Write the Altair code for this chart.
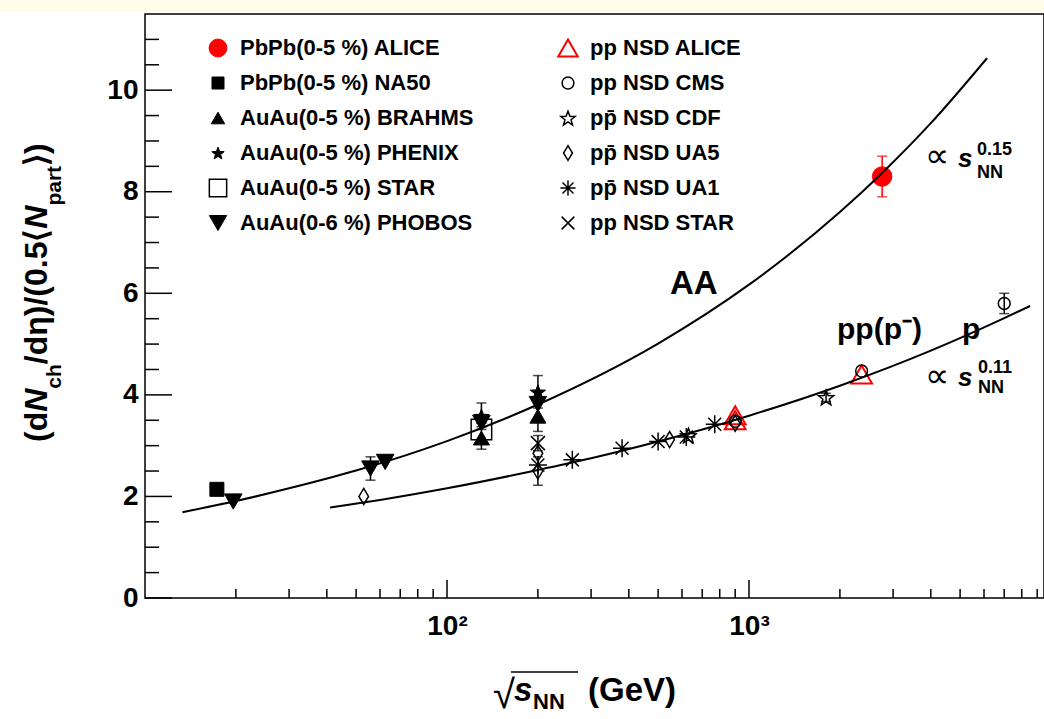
import math
import altair as alt
import pandas as pd

# ---------------- values ----------------
# sqrt(s_NN) [GeV], (dNch/deta)/(0.5<Npart>), error
pbpb_alice_x = [2760]
pbpb_alice_y = [8.3]
pbpb_alice_e = [0.4]

pbpb_na50_x = [17.3]
pbpb_na50_y = [2.14]
pbpb_na50_e = [0.08]

auau_brahms_x = [130, 200]
auau_brahms_y = [3.15, 3.58]
auau_brahms_e = [0.22, 0.30]

auau_phenix_x = [130, 200]
auau_phenix_y = [3.58, 4.06]
auau_phenix_e = [0.26, 0.32]

auau_star_x = [130]
auau_star_y = [3.32]
auau_star_e = [0.0]

auau_phobos_x = [19.6, 55.8, 62.4, 130, 200]
auau_phobos_y = [1.90, 2.55, 2.68, 3.45, 3.82]
auau_phobos_e = [0.0, 0.23, 0.0, 0.0, 0.0]

pp_alice_x = [900, 900, 2360]
pp_alice_y = [3.60, 3.50, 4.40]
pp_alice_e = [0.0, 0.0, 0.0]

pp_cms_x = [900, 2360, 7000]
pp_cms_y = [3.48, 4.47, 5.80]
pp_cms_e = [0.0, 0.0, 0.2]

ppbar_cdf_x = [630, 1800]
ppbar_cdf_y = [3.20, 3.95]
ppbar_cdf_e = [0.0, 0.08]

ppbar_ua5_x = [53, 200, 200, 546, 900]
ppbar_ua5_y = [2.00, 2.85, 2.50, 3.12, 3.44]
ppbar_ua5_e = [0.0, 0.0, 0.28, 0.0, 0.0]

ppbar_ua1_x = [200, 260, 380, 500, 620, 770]
ppbar_ua1_y = [2.62, 2.72, 2.95, 3.08, 3.17, 3.42]
ppbar_ua1_e = [0.0, 0.0, 0.0, 0.0, 0.0, 0.0]

pp_star_x = [200]
pp_star_y = [3.05]
pp_star_e = [0.15]

# fitted power-law curves
aa_fit_x = [13.3, 20, 30, 50, 100, 200, 500, 1000, 2000, 2760, 4000, 6140]
aa_fit_y = [1.69, 1.91, 2.16, 2.51, 3.09, 3.81, 5.01, 6.17, 7.60, 8.37, 9.35, 10.63]
pp_fit_x = [41, 60, 100, 200, 300, 500, 1000, 2000, 4000, 7000, 8520]
pp_fit_y = [1.78, 1.93, 2.16, 2.52, 2.75, 3.08, 3.59, 4.18, 4.87, 5.51, 5.75]

legend_labels = [
    "PbPb(0-5 %) ALICE", "PbPb(0-5 %) NA50", "AuAu(0-5 %) BRAHMS",
    "AuAu(0-5 %) PHENIX", "AuAu(0-5 %) STAR", "AuAu(0-6 %) PHOBOS",
    "pp NSD  ALICE", "pp NSD CMS", "pp\u0304 NSD CDF",
    "pp\u0304 NSD UA5", "pp\u0304 NSD UA1", "pp NSD STAR",
]

y_major = [0, 2, 4, 6, 8, 10]
y_minor = [0.5, 1, 1.5, 2.5, 3, 3.5, 4.5, 5, 5.5, 6.5, 7, 7.5, 8.5, 9, 9.5, 10.5, 11]
x_major = [100, 1000]
x_major_labels = ["10\u00b2", "10\u00b3"]
x_minor = [20, 30, 40, 50, 60, 70, 80, 90,
           200, 300, 400, 500, 600, 700, 800, 900,
           2000, 3000, 4000, 5000, 6000, 7000, 8000, 9000]

# ---------------- layout / style ----------------
FONT = "Liberation Sans"
RED = "#ff0000"
W, H = 899, 584
PL, PT = 145, 14
xs = alt.Scale(type="log", domain=[10, 9480], nice=False)
ys = alt.Scale(domain=[0, 11.5], nice=False, zero=False)


def star_path(r_in):
    pts = []
    for k in range(10):
        a = math.radians(-90 + 36 * k)
        r = 1.0 if k % 2 == 0 else r_in
        pts.append(f"{r * math.cos(a):.3f},{r * math.sin(a) + 0.1:.3f}")
    return "M" + "L".join(pts) + "Z"


STAR = star_path(0.42)
ASTER = "M-1,0L1,0M0,-1L0,1M-0.72,-0.72L0.72,0.72M-0.72,0.72L0.72,-0.72"
XMARK = "M-0.7,-0.7L0.7,0.7M-0.7,0.7L0.7,-0.7"
DIAM = "M0,-1L0.6,0L0,1L-0.6,0Z"
TRANS = "transparent"

# shape, fill, stroke, data size, legend size, stroke width
styles = [
    ("circle", RED, RED, 380, 320, 1),
    ("square", "black", "black", 196, 144, 1),
    ("triangle-up", "black", "black", 256, 180, 1),
    (STAR, "black", "black", 256, 170, 1),
    ("square", TRANS, "black", 420, 300, 1.5),
    ("triangle-down", "black", "black", 310, 300, 1),
    ("triangle-up", TRANS, RED, 430, 380, 2),
    ("circle", TRANS, "black", 140, 140, 1.5),
    (STAR, TRANS, "black", 256, 230, 1.5),
    (DIAM, TRANS, "black", 256, 220, 1.5),
    (ASTER, TRANS, "black", 324, 230, 1.5),
    (XMARK, TRANS, "black", 400, 330, 1.5),
]
series_vals = [
    (pbpb_alice_x, pbpb_alice_y, pbpb_alice_e),
    (pbpb_na50_x, pbpb_na50_y, pbpb_na50_e),
    (auau_brahms_x, auau_brahms_y, auau_brahms_e),
    (auau_phenix_x, auau_phenix_y, auau_phenix_e),
    (auau_star_x, auau_star_y, auau_star_e),
    (auau_phobos_x, auau_phobos_y, auau_phobos_e),
    (pp_alice_x, pp_alice_y, pp_alice_e),
    (pp_cms_x, pp_cms_y, pp_cms_e),
    (ppbar_cdf_x, ppbar_cdf_y, ppbar_cdf_e),
    (ppbar_ua5_x, ppbar_ua5_y, ppbar_ua5_e),
    (ppbar_ua1_x, ppbar_ua1_y, ppbar_ua1_e),
    (pp_star_x, pp_star_y, pp_star_e),
]

pt_rows, err_rows, cap_rows, leg_rows = [], [], [], []
for i, ((sx, sy, se), st, lab) in enumerate(zip(series_vals, styles, legend_labels)):
    shape, fill, stroke, size, lsize, sw = st
    col = RED if stroke == RED else "black"
    for x, y, e in zip(sx, sy, se):
        pt_rows.append(dict(x=x, y=y, shape=shape, fill=fill, stroke=stroke, size=size, sw=sw))
        if e > 0:
            err_rows.append(dict(x=x, lo=y - e, hi=y + e, c=col))
            cap_rows.append(dict(x=x, y=y - e, c=col))
            cap_rows.append(dict(x=x, y=y + e, c=col))
    leg_rows.append(dict(label=lab, col=i // 6, row=i % 6, shape=shape, fill=fill,
                         stroke=stroke, size=lsize, sw=sw))

pts = pd.DataFrame(pt_rows)
errs = pd.DataFrame(err_rows)
caps = pd.DataFrame(cap_rows)
leg = pd.DataFrame(leg_rows)
aa = pd.DataFrame({"x": aa_fit_x, "y": aa_fit_y})
pp = pd.DataFrame({"x": pp_fit_x, "y": pp_fit_y})
one = pd.DataFrame({"a": [0]})

label_expr = " : ".join(
    f"datum.value == {v} ? '{t}'" for v, t in zip(x_major, x_major_labels)) + " : ''"

x_axis = alt.Axis(values=x_major, labelExpr=label_expr, ticks=False, domain=False, grid=False,
                  labelFont=FONT, labelFontSize=28, labelFontWeight="bold", labelColor="black",
                  labelPadding=14, labelFlush=False)
y_axis = alt.Axis(values=y_major, format="d", ticks=False, domain=False, grid=False,
                  labelFont=FONT, labelFontSize=28, labelFontWeight="bold", labelColor="black",
                  labelPadding=7)

X = lambda f: alt.X(f, type="quantitative", scale=xs, axis=x_axis, title=None)
Y = lambda f: alt.Y(f, type="quantitative", scale=ys, axis=y_axis, title=None)


def txt(text, x, y, size, italic=False, angle=0, align="left", baseline="alphabetic",
        color="black", weight="bold"):
    kw = dict(text=text, fontSize=size, fontWeight=weight, font=FONT,
              fontStyle="italic" if italic else "normal", align=align, baseline=baseline,
              color=color)
    if angle:
        kw["angle"] = angle
    return alt.Chart(one).mark_text(**kw).encode(x=alt.value(x - PL), y=alt.value(y - PT))


strip = alt.Chart(one).mark_rect(color="#fffde8").encode(
    x=alt.value(-PL), x2=alt.value(W), y=alt.value(-PT), y2=alt.value(12 - PT))

err_layer = alt.Chart(errs).mark_rule(strokeWidth=1.5).encode(
    x=X("x"), y=Y("lo"), y2="hi", color=alt.Color("c:N", scale=None))
cap_layer = alt.Chart(caps).mark_tick(orient="horizontal", size=10, thickness=1.5).encode(
    x=X("x"), y=Y("y"), color=alt.Color("c:N", scale=None))
pt_layer = alt.Chart(pts).mark_point(opacity=1, filled=False).encode(
    x=X("x"), y=Y("y"),
    shape=alt.Shape("shape:N", scale=None),
    fill=alt.Fill("fill:N", scale=None),
    stroke=alt.Stroke("stroke:N", scale=None),
    size=alt.Size("size:Q", scale=None),
    strokeWidth=alt.StrokeWidth("sw:Q", scale=None),
)
aa_line = alt.Chart(aa).mark_line(color="black", strokeWidth=2, interpolate="monotone", clip=True).encode(
    x=X("x"), y=Y("y"))
pp_line = alt.Chart(pp).mark_line(color="black", strokeWidth=2, interpolate="monotone", clip=True).encode(
    x=X("x"), y=Y("y"))

ytk_major = alt.Chart(pd.DataFrame({"v": y_major})).mark_rule(color="black", strokeWidth=1.5).encode(
    y=Y("v"), x=alt.value(0), x2=alt.value(27))
ytk_minor = alt.Chart(pd.DataFrame({"v": y_minor})).mark_rule(color="black", strokeWidth=1.5).encode(
    y=Y("v"), x=alt.value(0), x2=alt.value(14))
xtk_major = alt.Chart(pd.DataFrame({"v": x_major})).mark_rule(color="black", strokeWidth=1.5).encode(
    x=X("v"), y=alt.value(H), y2=alt.value(H - 18))
xtk_minor = alt.Chart(pd.DataFrame({"v": x_minor})).mark_rule(color="black", strokeWidth=1.5).encode(
    x=X("v"), y=alt.value(H), y2=alt.value(H - 9))

# ---- y-axis title, laid out piece by piece (rotated) ----
WID = {'(': .333, ')': .333, 'd': .611, 'N': .722, 'c': .556, 'h': .611, '/': .278,
       'η': .611, '0': .556, '.': .278, '5': .556, '⟨': .40, '⟩': .40, 'p': .611,
       'a': .556, 'r': .389, 't': .333}
S_MAIN, S_SUB = 32, 21
ytitle_pieces = [("(d", False, False), ("N", True, False), ("ch", False, True),
                 ("/dη)/(0.5⟨", False, False), ("N", True, False), ("part", False, True),
                 ("⟩)", False, False)]
ytitle_layers = []
ypos = 442
for t, it, sub in ytitle_pieces:
    sz = S_SUB if sub else S_MAIN
    bx = 61 if sub else 47
    ytitle_layers.append(txt(t, bx, ypos, sz, italic=it, angle=270))
    ypos -= sum(WID.get(ch, 0.55) for ch in t) * sz

# ---- x-axis title ----
xtitle_layers = [
    txt("√", 493, 708, 40, weight="normal"),
    txt("s", 514, 701, 33, italic=True),
    txt("NN", 533, 709, 22),
    txt("(GeV)", 588, 701, 33),
]
overline = alt.Chart(one).mark_rule(color="black", strokeWidth=1.5).encode(
    x=alt.value(511 - PL), x2=alt.value(578 - PL), y=alt.value(672 - PT))

# ---- annotations ----
notes = [
    txt("AA", 670, 294, 33),
    txt("pp(p\u207b)", 837, 339, 30),
    txt("p", 962, 339, 30),
    txt("∝", 925, 167, 34, weight="normal"),
    txt("s", 958, 167, 26, italic=True),
    txt("0.15", 977, 155, 18),
    txt("NN", 977, 178, 18),
    txt("∝", 925, 387, 34, weight="normal"),
    txt("s", 958, 386, 26, italic=True),
    txt("0.11", 978, 373, 18),
    txt("NN", 978, 393, 18),
]

main = alt.layer(strip, err_layer, cap_layer, pt_layer, aa_line, pp_line,
                 ytk_major, ytk_minor, xtk_major, xtk_minor, overline,
                 *ytitle_layers, *xtitle_layers, *notes)

LX = alt.X("col:Q", scale=alt.Scale(domain=[0, 1], range=[218 - PL, 568 - PL]), axis=None)
LY = alt.Y("row:Q", scale=alt.Scale(domain=[0, 5], range=[48 - PT, 223 - PT]), axis=None)
leg_pts = alt.Chart(leg).mark_point(opacity=1, filled=False).encode(
    x=LX, y=LY,
    shape=alt.Shape("shape:N", scale=None),
    fill=alt.Fill("fill:N", scale=None),
    stroke=alt.Stroke("stroke:N", scale=None),
    size=alt.Size("size:Q", scale=None),
    strokeWidth=alt.StrokeWidth("sw:Q", scale=None),
)
leg_txt = alt.Chart(leg).mark_text(align="left", baseline="middle", dx=22, fontSize=22,
                                   fontWeight="bold", font=FONT, color="black").encode(
    x=LX, y=LY, text="label:N")
legend = alt.layer(leg_pts, leg_txt)

chart = alt.layer(main, legend).resolve_scale(x="independent", y="independent").properties(
    width=W, height=H,
    padding={"left": PL, "top": PT, "right": 1044 - PL - W, "bottom": 719 - PT - H},
    autosize=alt.AutoSizeParams(type="none"),
    background="white",
).configure_view(stroke="black", strokeWidth=1.5)

chart.save("out.html", embed_options={"renderer": "svg", "actions": False})
